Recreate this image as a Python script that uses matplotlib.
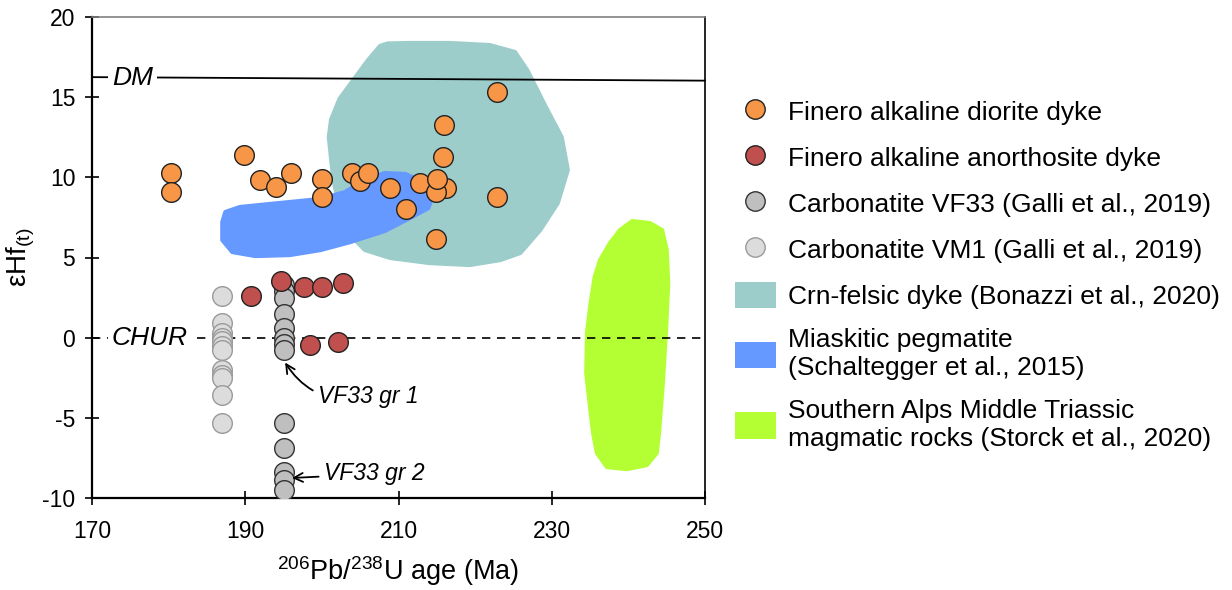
import matplotlib
matplotlib.use("Agg")
import matplotlib.pyplot as plt
from matplotlib.patches import Polygon, Patch
from matplotlib.lines import Line2D

plt.rcParams['font.family'] = ['Liberation Sans', 'DejaVu Sans']
plt.rcParams['mathtext.fontset'] = 'custom'
plt.rcParams['mathtext.rm'] = 'Liberation Sans'
plt.rcParams['mathtext.it'] = 'Liberation Sans:italic'
plt.rcParams['axes.unicode_minus'] = False

# ---------------- data ----------------
diorite_age = [180.3, 180.3, 189.8, 191.9, 194.0, 196.0, 200.0, 200.0, 203.9, 205.0, 206.0,
               208.9, 211.0, 212.8, 216.2, 214.9, 214.9, 215.8, 222.9, 215.9, 222.9, 215.0]
diorite_ehf = [10.27, 9.08, 11.4, 9.83, 9.4, 10.27, 9.9, 8.8, 10.27, 9.8, 10.27,
               9.33, 8.0, 9.64, 9.33, 9.08, 6.15, 11.27, 15.3, 13.26, 8.77, 9.9]

anorth_age = [190.75, 194.7, 197.7, 200.0, 202.8, 198.5, 202.1]
anorth_ehf = [2.6, 3.53, 3.16, 3.16, 3.41, -0.46, -0.27]

vf33_age = [195.0] * 13
vf33_ehf = [3.3, 2.9, 2.5, 1.5, 0.6, 0.0, -0.4, -0.8, -5.3, -6.9, -8.4, -8.9, -9.5]

vm1_age = [187.0] * 12
vm1_ehf = [2.6, 0.9, 0.3, 0.0, -0.2, -0.5, -0.8, -2.0, -2.3, -2.5, -3.6, -5.3]

crn_age = [207.6, 206.0, 204.0, 202.3, 201.2, 200.9, 201.5, 202.4, 203.7, 205.6, 208.9, 214.1, 219.3,
           223.3, 225.9, 228.5, 230.8, 232.1, 231.3, 229.1, 226.8, 225.2, 221.9, 216.7, 211.5, 208.6]
crn_ehf = [18.2, 17.3, 16.0, 14.9, 13.6, 12.51, 9.83, 7.96, 6.4, 5.47, 4.97, 4.65, 4.53,
           4.84, 5.28, 6.71, 8.4, 10.46, 12.51, 14.51, 16.69, 17.82, 18.25, 18.38, 18.38, 18.35]

peg_age = [187.4, 189.3, 194.5, 199.8, 203.0, 205.6, 208.2, 210.9, 213.5, 214.5, 213.9, 211.5,
           208.2, 203.7, 199.8, 195.8, 191.3, 188.3, 187.0, 187.0]
peg_ehf = [7.84, 8.15, 8.4, 8.65, 9.08, 9.83, 10.27, 10.21, 9.64, 8.9, 8.08, 7.46,
           6.65, 5.96, 5.46, 5.15, 5.09, 5.34, 6.09, 7.21]

sa_age = [240.5, 242.8, 244.4, 245.0, 245.2, 244.9, 244.5, 244.0, 243.7, 242.4, 239.8, 237.2,
          235.9, 235.4, 235.0, 234.5, 234.6, 235.0, 235.6, 236.3, 237.6, 238.9]
sa_ehf = [7.27, 7.15, 6.71, 5.47, 3.41, 0.29, -2.83, -5.95, -7.2, -7.95, -8.2, -8.07,
          -7.2, -5.95, -4.33, -2.21, 0.29, 1.91, 3.78, 4.84, 5.9, 6.71]

dm_age = [170.0, 250.0]
dm_ehf = [16.25, 16.03]

xticks = [170, 190, 210, 230, 250]
yticks = [-10, -5, 0, 5, 10, 15, 20]

labels = ["Finero alkaline diorite dyke",
          "Finero alkaline anorthosite dyke",
          "Carbonatite VF33 (Galli et al., 2019)",
          "Carbonatite VM1 (Galli et al., 2019)",
          "Crn-felsic dyke (Bonazzi et al., 2020)",
          "Miaskitic pegmatite\n(Schaltegger et al., 2015)",
          "Southern Alps Middle Triassic\nmagmatic rocks (Storck et al., 2020)"]

c_orange = '#F79646'
c_red = '#C0504D'
c_grey = '#BFBFBF'
c_lgrey = '#DCDCDC'
c_teal = '#9CCDCB'
c_blue = '#6699FF'
c_green = '#B3FF33'

# ---------------- figure ----------------
fig = plt.figure(figsize=(12.32, 5.90), dpi=100)
ax = fig.add_axes([92/1232, 1-498/590, (705-92)/1232, (498-17)/590])

ax.add_patch(Polygon(list(zip(crn_age, crn_ehf)), closed=True, facecolor=c_teal,
                     edgecolor=c_teal, lw=3, joinstyle='round', zorder=1))
ax.add_patch(Polygon(list(zip(peg_age, peg_ehf)), closed=True, facecolor=c_blue,
                     edgecolor=c_blue, lw=3, joinstyle='round', zorder=1.1))
ax.add_patch(Polygon(list(zip(sa_age, sa_ehf)), closed=True, facecolor=c_green,
                     edgecolor=c_green, lw=3, joinstyle='round', zorder=1))

# reference lines
ax.plot([170, 250], [0, 0], color='black', lw=1.2, ls=(0, (5, 4)), zorder=2)
ax.plot(dm_age, dm_ehf, color='black', lw=1.3, zorder=2, clip_on=False)
ax.text(172.6, 16.2, 'DM', fontsize=19, style='italic', va='center', ha='left', zorder=2.5,
        bbox=dict(facecolor='white', edgecolor='none', pad=3))
ax.text(172.6, 0, 'CHUR', fontsize=19, style='italic', va='center', ha='left', zorder=2.5,
        bbox=dict(facecolor='white', edgecolor='none', pad=3))

ms = 200
ax.scatter(vm1_age, vm1_ehf, s=ms, facecolor=c_lgrey, edgecolor='#9A9A9A', lw=1, zorder=3)
ax.scatter(vf33_age, vf33_ehf, s=ms, facecolor=c_grey, edgecolor='#333333', lw=1, zorder=3)
ax.scatter(anorth_age, anorth_ehf, s=ms, facecolor=c_red, edgecolor='#222222', lw=1, zorder=4)
ax.scatter(diorite_age, diorite_ehf, s=ms, facecolor=c_orange, edgecolor='#222222', lw=1, zorder=4)

# annotations
ax.annotate('VF33 gr 1', xy=(195.2, -1.55), xytext=(199.5, -3.7), fontsize=16.5, style='italic',
            va='center', ha='left',
            arrowprops=dict(arrowstyle='->', color='black', lw=1.3,
                            connectionstyle='arc3,rad=-0.35', shrinkA=2, shrinkB=0,
                            mutation_scale=16), zorder=5)
ax.annotate('VF33 gr 2', xy=(196.1, -8.75), xytext=(200.3, -8.5), fontsize=16.5, style='italic',
            va='center', ha='left',
            arrowprops=dict(arrowstyle='->', color='black', lw=1.3, shrinkA=2, shrinkB=0,
                            mutation_scale=16), zorder=5)

ax.set_xlim(170, 250)
ax.set_ylim(-10, 20)
ax.set_xticks(xticks)
ax.set_yticks(yticks)
ax.tick_params(direction='inout', length=10, width=1.2, labelsize=16.5)
ax.tick_params(axis='x', pad=11)
ax.tick_params(axis='y', pad=7)
for s in ['left', 'bottom']:
    ax.spines[s].set_linewidth(1.6)
ax.spines['top'].set_color('#808080')
ax.spines['top'].set_linewidth(1.2)
ax.spines['right'].set_linewidth(1.2)

ax.set_xlabel(r'$\mathregular{^{206}}$Pb/$\mathregular{^{238}}$U age (Ma)', fontsize=19.5, labelpad=8)
ax.set_ylabel(r'εHf$\mathregular{_{(t)}}$', fontsize=20, labelpad=4)

# legend
handles = [
    Line2D([], [], ls='none', marker='o', markersize=14, markerfacecolor=c_orange, markeredgecolor='#222222'),
    Line2D([], [], ls='none', marker='o', markersize=14, markerfacecolor=c_red, markeredgecolor='#222222'),
    Line2D([], [], ls='none', marker='o', markersize=14, markerfacecolor=c_grey, markeredgecolor='#333333'),
    Line2D([], [], ls='none', marker='o', markersize=14, markerfacecolor=c_lgrey, markeredgecolor='#9A9A9A'),
    Patch(facecolor=c_teal, edgecolor='none'),
    Patch(facecolor=c_blue, edgecolor='none'),
    Patch(facecolor=c_green, edgecolor='none'),
]
fig.legend(handles, labels, loc='upper left', bbox_to_anchor=(735/1232, 1-98/590),
           frameon=False, fontsize=19, borderpad=0, borderaxespad=0,
           handlelength=1.55, handleheight=1.15, handletextpad=0.45, labelspacing=0.72)

fig.savefig('out.png', dpi=100)
